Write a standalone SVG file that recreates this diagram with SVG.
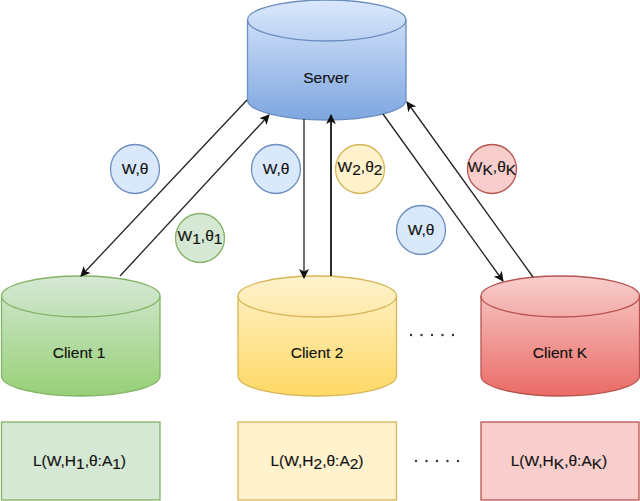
<svg xmlns="http://www.w3.org/2000/svg" width="640" height="501" viewBox="0 0 640 501">
<style>
text{font-family:"Liberation Sans",Arial,sans-serif;font-size:15.5px;fill:#111;text-anchor:middle;stroke:#111;stroke-width:.15}
.n{stroke-width:1.3}
.blue{stroke:#6c8ebf}.green{stroke:#82b366}.yellow{stroke:#d6b656}.red{stroke:#b85450}
.fb{fill:#dae8fc}.fg{fill:#d5e8d4}.fy{fill:#fff2cc}.fr{fill:#f8cecc}
.c{fill:none;stroke:#222;stroke-width:1.3;marker-end:url(#a)}
.v{stroke-width:1.9}
.d{fill:#333}
</style>
<defs>
<marker id="a" viewBox="0 0 10 10" refX="9" refY="5" markerWidth="10" markerHeight="10" markerUnits="userSpaceOnUse" orient="auto"><path d="M0 0L10 5L0 10L2.500 5Z" fill="#111"/></marker>
<linearGradient id="gb" x1="0" y1="0" x2="0" y2="1"><stop offset="0" stop-color="#dae8fc"/><stop offset="1" stop-color="#7ea6e0"/></linearGradient>
<linearGradient id="gg" x1="0" y1="0" x2="0" y2="1"><stop offset="0" stop-color="#d5e8d4"/><stop offset="1" stop-color="#97d077"/></linearGradient>
<linearGradient id="gy" x1="0" y1="0" x2="0" y2="1"><stop offset="0" stop-color="#fff2cc"/><stop offset="1" stop-color="#ffd966"/></linearGradient>
<linearGradient id="gr" x1="0" y1="0" x2="0" y2="1"><stop offset="0" stop-color="#f8cecc"/><stop offset="1" stop-color="#ea6b66"/></linearGradient>
<path id="cyl" d="M0 20C0 9 35.500 0 79 0C122.500 0 158.500 9 158.500 20V100C158.500 111 122.500 120 79 120C35.500 120 0 111 0 100Z"/>
<path id="lid" d="M0 20C0 31 35.500 41 79 41C122.500 41 158.500 31 158.500 20" fill="none"/>
</defs>
<g id="server" class="n blue" transform="translate(247.500 0)"><use href="#cyl" fill="url(#gb)"/><use href="#lid"/></g>
<text id="server-label" x="326" y="83">Server</text>
<g id="client1" class="n green" transform="translate(1.500 276)"><use href="#cyl" fill="url(#gg)"/><use href="#lid"/></g>
<text id="client1-label" x="79" y="358">Client 1</text>
<g id="client2" class="n yellow" transform="translate(238 276)"><use href="#cyl" fill="url(#gy)"/><use href="#lid"/></g>
<text id="client2-label" x="317" y="358">Client 2</text>
<g id="clientK" class="n red" transform="translate(481 276)"><use href="#cyl" fill="url(#gr)"/><use href="#lid"/></g>
<text id="clientK-label" x="560" y="358">Client K</text>
<g id="connectors">
<line class="c" x1="247" y1="100" x2="81" y2="276"/>
<line class="c" x1="120" y1="276" x2="269" y2="115"/>
<line class="c" x1="304" y1="119" x2="304" y2="278"/>
<line class="c v" x1="331" y1="276" x2="331" y2="115"/>
<line class="c" x1="383" y1="114" x2="503" y2="281"/>
<line class="c" x1="533" y1="277" x2="407" y2="102"/>
</g>
<g id="loss1"><rect class="n green fg" x="1.500" y="422" width="158.500" height="78"/><text x="79.500" y="466">L(W,H<tspan dy="3">1</tspan><tspan dy="-3">,θ:A</tspan><tspan dy="3">1</tspan><tspan dy="-3">)</tspan></text></g>
<g id="loss2"><rect class="n yellow fy" x="238" y="422" width="158.500" height="78"/><text x="317" y="466">L(W,H<tspan dy="3">2</tspan><tspan dy="-3">,θ:A</tspan><tspan dy="3">2</tspan><tspan dy="-3">)</tspan></text></g>
<g id="lossK"><rect class="n red fr" x="481" y="422" width="158" height="78"/><text x="559" y="466">L(W,H<tspan dy="3">K</tspan><tspan dy="-3">,θ:A</tspan><tspan dy="3">K</tspan><tspan dy="-3">)</tspan></text></g>
<g id="c-w1"><circle class="n blue fb" cx="135" cy="169" r="24.500"/><text x="135" y="174">W,θ</text></g>
<g id="c-w2"><circle class="n blue fb" cx="276" cy="169" r="24.500"/><text x="276" y="174">W,θ</text></g>
<g id="c-w3"><circle class="n blue fb" cx="421" cy="230" r="24.500"/><text x="421" y="235">W,θ</text></g>
<g id="c-g"><circle class="n green fg" cx="200" cy="238" r="24.500"/><text x="200" y="241">W<tspan dy="3">1</tspan><tspan dy="-3">,θ</tspan><tspan dy="3">1</tspan></text></g>
<g id="c-y"><circle class="n yellow fy" cx="360" cy="169" r="24.500"/><text x="360" y="172">W<tspan dy="3">2</tspan><tspan dy="-3">,θ</tspan><tspan dy="3">2</tspan></text></g>
<g id="c-r"><circle class="n red fr" cx="492" cy="169" r="24.500"/><text x="492" y="172">W<tspan dy="3">K</tspan><tspan dy="-3">,θ</tspan><tspan dy="3">K</tspan></text></g>
<g id="dots1" class="d"><circle cx="411" cy="335" r="1.200"/><circle cx="421.500" cy="335" r="1.200"/><circle cx="432" cy="335" r="1.200"/><circle cx="442.500" cy="335" r="1.200"/><circle cx="453" cy="335" r="1.200"/></g>
<g id="dots2" class="d"><circle cx="416" cy="461" r="1.200"/><circle cx="426.500" cy="461" r="1.200"/><circle cx="437" cy="461" r="1.200"/><circle cx="447.500" cy="461" r="1.200"/><circle cx="458" cy="461" r="1.200"/></g>
</svg>
